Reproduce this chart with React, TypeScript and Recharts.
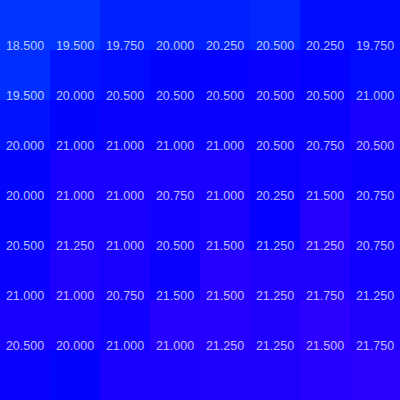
import { Bar, BarChart, Cell, LabelList, XAxis, YAxis } from 'recharts';

// 8 x 8 grid, top row first; every cell has a height of 1 so the stack fills the y domain
const columns = ['c1', 'c2', 'c3', 'c4', 'c5', 'c6', 'c7', 'c8'];
const row1 = [18.25, 18.25, 19.0, 19.0, 19.0, 18.75, 19.75, 19.75];
const row2 = [18.5, 19.5, 19.75, 20.0, 20.25, 20.5, 20.25, 19.75];
const row3 = [19.5, 20.0, 20.5, 20.5, 20.5, 20.5, 20.5, 21.0];
const row4 = [20.0, 21.0, 21.0, 21.0, 21.0, 20.5, 20.75, 20.5];
const row5 = [20.0, 21.0, 21.0, 20.75, 21.0, 20.25, 21.5, 20.75];
const row6 = [20.5, 21.25, 21.0, 20.5, 21.5, 21.25, 21.25, 20.75];
const row7 = [21.0, 21.0, 20.75, 21.5, 21.5, 21.25, 21.75, 21.25];
const row8 = [20.5, 20.0, 21.0, 21.0, 21.25, 21.25, 21.5, 21.75];

const rows = [row1, row2, row3, row4, row5, row6, row7, row8];

const data = columns.map((name, c) => {
  const entry: Record<string, number | string> = { name };
  rows.forEach((r, i) => {
    entry[`h${i}`] = 1;
    entry[`v${i}`] = r[c];
  });
  return entry;
});

// light blue for low values, violet for high
function cellColor(v: number): string {
  const t = Math.min(1, Math.max(0, (v - 18) / 4));
  const hue = 226 + t * 26;
  return `hsl(${hue}, 100%, 50%)`;
}

function ValueLabel(props: any) {
  const { x, y, width, value } = props;
  return (
    <text
      x={x + width / 2}
      y={y}
      textAnchor="middle"
      fill="#ffffff"
      fillOpacity={0.74}
      fontSize={12.5}
      fontFamily="'Liberation Sans', Arial, sans-serif"
    >
      {Number(value).toFixed(3)}
    </text>
  );
}

export default function App() {
  // stacked bottom-up, so the last row goes first
  const order = rows.map((_, i) => rows.length - 1 - i);
  return (
    <div style={{ position: 'absolute', left: 0, top: 0 }}>
      <BarChart
        width={400}
        height={400}
        data={data}
        margin={{ top: 0, right: 0, left: 0, bottom: 0 }}
        barCategoryGap={0}
        barGap={0}
      >
        <XAxis dataKey="name" hide />
        <YAxis type="number" domain={[0, 8]} hide />
        {order.map((i) => (
          <Bar key={i} dataKey={`h${i}`} stackId="grid" isAnimationActive={false}>
            {rows[i].map((v, c) => (
              <Cell key={c} fill={cellColor(v)} />
            ))}
            <LabelList dataKey={`v${i}`} content={<ValueLabel />} />
          </Bar>
        ))}
      </BarChart>
    </div>
  );
}
